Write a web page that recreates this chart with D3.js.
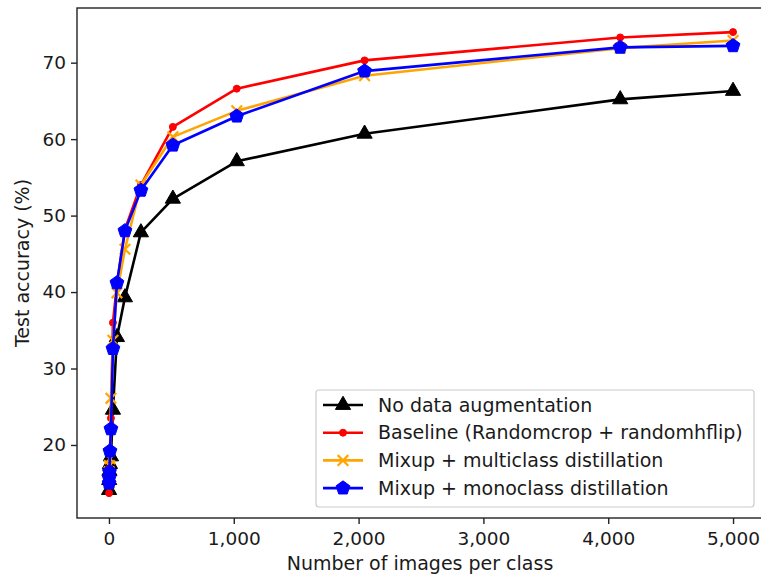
<!DOCTYPE html>
<html>
<head>
<meta charset="utf-8">
<script src="https://cdn.jsdelivr.net/npm/d3@7"></script>
<style>
  body { margin: 0; background: #fff; }
  svg { font-family: "DejaVu Sans", sans-serif; }
</style>
</head>
<body>
<svg id="chart"></svg>
<script>
// images per class
const xValues = [1, 2, 4, 8, 16, 32, 64, 128, 256, 512, 1024, 2048, 4096, 5000];

// test accuracy (%) per setting
const noAugment = [14.1, 15.4, 16.6, 17.5, 18.5, 24.6, 34.1, 39.3, 47.8, 52.2, 57.1, 60.7, 65.2, 66.3];
const baseline  = [13.7, 15.3, 17.0, 19.0, 23.5, 36.0, 41.0, 48.2, 54.0, 61.6, 66.6, 70.3, 73.3, 74.0];
const multiMix  = [15.0, 16.5, 17.3, 18.2, 26.1, 33.7, 39.9, 45.6, 54.0, 60.3, 63.7, 68.3, 71.9, 72.9];
const monoMix   = [15.0, 15.7, 16.5, 19.2, 22.1, 32.6, 41.2, 48.0, 53.3, 59.2, 63.0, 68.9, 72.0, 72.2];

const seriesNames = [
  'No data augmentation',
  'Baseline (Randomcrop + randomhflip)',
  'Mixup + multiclass distillation',
  'Mixup + monoclass distillation'
];

const xTicks = [0, 1000, 2000, 3000, 4000, 5000];
const yTicks = [20, 30, 40, 50, 60, 70];

const width = 761, height = 578;
const margin = { top: 8, left: 77, bottom: 60 };

const svg = d3.select('#chart')
  .attr('width', width)
  .attr('height', height);

const x = d3.scaleLinear().domain([-256, 5256]).range([margin.left, 765]);
const y = d3.scaleLinear().domain([10.45, 77.15]).range([height - margin.bottom, margin.top]);

// custom pentagon symbol
const pentagon = {
  draw(ctx, size) {
    const r = Math.sqrt(size / 2.378);
    for (let i = 0; i < 5; i++) {
      const a = -Math.PI / 2 + i * 2 * Math.PI / 5;
      const px = r * Math.cos(a), py = r * Math.sin(a);
      if (i === 0) ctx.moveTo(px, py); else ctx.lineTo(px, py);
    }
    ctx.closePath();
  }
};

const series = [
  { name: seriesNames[0], values: noAugment, color: '#000000', symbol: d3.symbolTriangle, size: 100, fill: true },
  { name: seriesNames[1], values: baseline,  color: '#ff0000', symbol: d3.symbolCircle,   size: 38, fill: true },
  { name: seriesNames[2], values: multiMix,  color: '#ffa500', symbol: d3.symbolTimes,    size: 75, fill: false },
  { name: seriesNames[3], values: monoMix,   color: '#0000ff', symbol: pentagon,          size: 125, fill: true }
];

const textColor = '#1a1a1a';

// axes frame
const plotLeft = margin.left, plotTop = margin.top, plotBottom = height - margin.bottom;

const xAxis = svg.append('g')
  .attr('transform', `translate(0,${plotBottom})`)
  .call(d3.axisBottom(x).tickValues(xTicks).tickFormat(d3.format(',')).tickSize(6).tickPadding(4));

const yAxis = svg.append('g')
  .attr('transform', `translate(${plotLeft},0)`)
  .call(d3.axisLeft(y).tickValues(yTicks).tickSize(6).tickPadding(5));

[xAxis, yAxis].forEach(a => {
  a.select('.domain').remove();
  a.selectAll('line').attr('stroke', '#222').attr('stroke-width', 1.4);
  a.selectAll('text').attr('font-size', 18.5).attr('fill', textColor)
    .attr('font-family', '"DejaVu Sans", sans-serif');
});
xAxis.selectAll('text').attr('dy', '0.9em');

// spines
svg.append('rect')
  .attr('x', plotLeft).attr('y', plotTop)
  .attr('width', 765 - plotLeft).attr('height', plotBottom - plotTop)
  .attr('fill', 'none').attr('stroke', '#222').attr('stroke-width', 1.4);

// axis labels
svg.append('text')
  .attr('x', 420).attr('y', 570)
  .attr('text-anchor', 'middle')
  .attr('font-size', 19).attr('fill', textColor)
  .text('Number of images per class');

svg.append('text')
  .attr('transform', `translate(29,${(plotTop + plotBottom) / 2}) rotate(-90)`)
  .attr('text-anchor', 'middle')
  .attr('font-size', 19).attr('fill', textColor)
  .text('Test accuracy (%)');

const line = d3.line().x(d => x(d[0])).y(d => y(d[1]));

function drawMarker(g, s, px, py) {
  g.append('path')
    .attr('transform', `translate(${px},${py})`)
    .attr('d', d3.symbol().type(s.symbol).size(s.size)())
    .attr('fill', s.fill ? s.color : 'none')
    .attr('stroke', s.color)
    .attr('stroke-width', s.fill ? 1 : 2.2);
}

series.forEach(s => {
  const pts = xValues.map((v, i) => [v, s.values[i]]);
  const g = svg.append('g');
  g.append('path')
    .attr('d', line(pts))
    .attr('fill', 'none')
    .attr('stroke', s.color)
    .attr('stroke-width', 2.6)
    .attr('stroke-linejoin', 'round');
  pts.forEach(p => drawMarker(g, s, x(p[0]), y(p[1])));
});

// legend
const legend = svg.append('g');
legend.append('rect')
  .attr('x', 316).attr('y', 390)
  .attr('width', 438).attr('height', 117)
  .attr('rx', 3)
  .attr('fill', '#fff').attr('fill-opacity', 0.85)
  .attr('stroke', '#ccc').attr('stroke-width', 1.2);

series.forEach((s, i) => {
  const cy = 405 + i * 27.7;
  legend.append('line')
    .attr('x1', 323).attr('x2', 363)
    .attr('y1', cy).attr('y2', cy)
    .attr('stroke', s.color).attr('stroke-width', 2.6);
  drawMarker(legend, s, 343, cy);
  legend.append('text')
    .attr('x', 378).attr('y', cy)
    .attr('dy', '0.35em')
    .attr('font-size', 19).attr('fill', textColor)
    .text(s.name);
});
</script>
</body>
</html>
